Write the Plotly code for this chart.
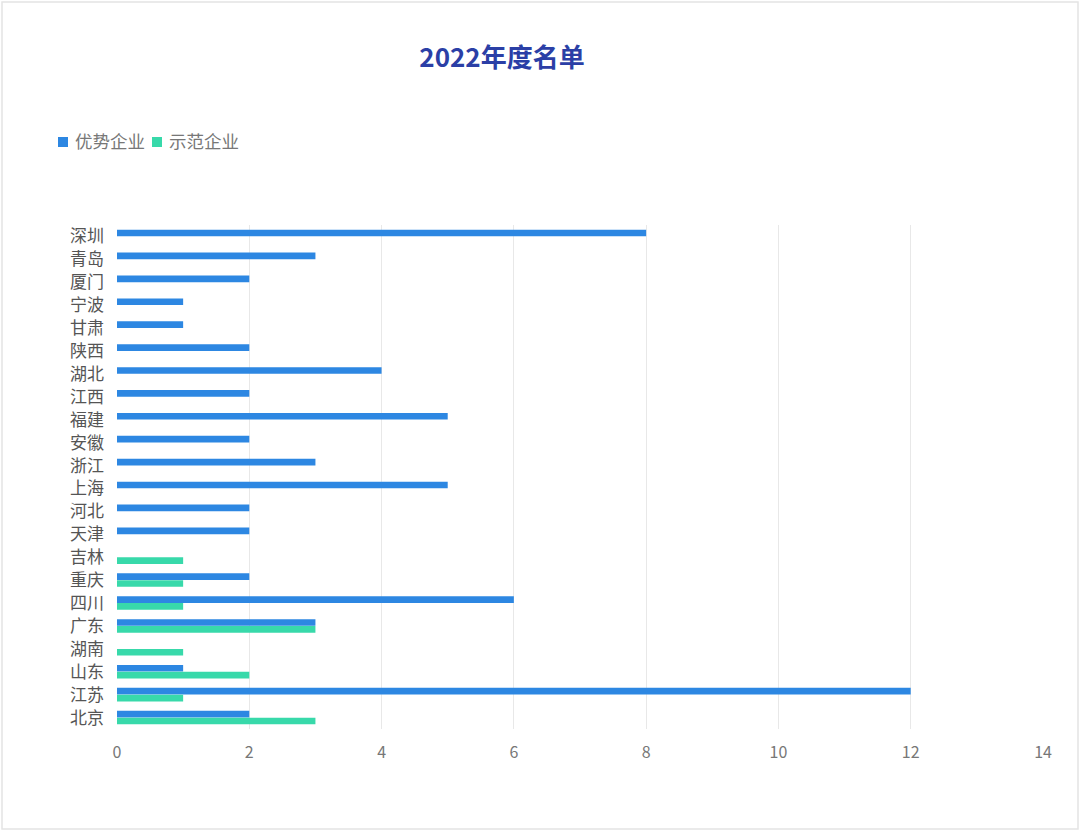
import plotly.graph_objects as go

# categories top to bottom
regions = ["深圳", "青岛", "厦门", "宁波", "甘肃", "陕西", "湖北", "江西", "福建", "安徽", "浙江",
           "上海", "河北", "天津", "吉林", "重庆", "四川", "广东", "湖南", "山东", "江苏", "北京"]
youshi = [8, 3, 2, 1, 1, 2, 4, 2, 5, 2, 3, 5, 2, 2, 0, 2, 6, 3, 0, 1, 12, 2]
shifan = [0, 0, 0, 0, 0, 0, 0, 0, 0, 0, 0, 0, 0, 0, 1, 1, 1, 3, 1, 2, 1, 3]
x_ticks = [0, 2, 4, 6, 8, 10, 12, 14]
series_names = ["优势企业", "示范企业"]
series_colors = ["#2d87e2", "#38d9aa"]

W, H = 1080, 831
L, R, T, B = 117, 37, 225, 102
pw, ph = W - L - R, H - T - B
font = "Noto Sans CJK SC"


def px(x):
    return (x - L) / pw


def py(y):
    return (H - B - y) / ph


fig = go.Figure()
for name, vals, col in zip(series_names, [youshi, shifan], series_colors):
    fig.add_trace(go.Bar(y=regions, x=vals, name=name, orientation="h",
                         marker=dict(color=col, line=dict(width=0))))

# legend drawn by hand: small squares + labels
legend_x = [58, 152]
shapes = [dict(type="rect", xref="paper", yref="paper", x0=px(2), x1=px(1078),
               y0=py(829), y1=py(2), line=dict(color="#e4e4e4", width=1.5))]
annotations = []
for lx, name, col in zip(legend_x, series_names, series_colors):
    shapes.append(dict(type="rect", xref="paper", yref="paper", x0=px(lx), x1=px(lx + 10),
                       y0=py(147), y1=py(137), fillcolor=col, line=dict(width=0)))
    annotations.append(dict(text=name, xref="paper", yref="paper", x=px(lx + 15), y=py(141),
                            xanchor="left", yanchor="middle", showarrow=False,
                            font=dict(size=17.5, color="#777777", family=font)))

fig.update_layout(
    width=W, height=H,
    paper_bgcolor="white", plot_bgcolor="white",
    margin=dict(l=L, r=R, t=T, b=B),
    font=dict(family=font, color="#666666", size=15),
    title=dict(text="<b>2022年度名单</b>", x=502 / W, xanchor="center",
               y=1 - 58 / H, yanchor="middle",
               font=dict(size=26, color="#2b3fa6", family=font)),
    barmode="group", bargap=0.4, bargroupgap=0.03,
    showlegend=False,
    xaxis=dict(range=[0, 14], tickvals=x_ticks, showgrid=True, gridcolor="#e8e8e8",
               gridwidth=1, zeroline=False, showline=False, ticks="",
               tickfont=dict(size=16, color="#777777"), ticklabelstandoff=12, fixedrange=True),
    yaxis=dict(autorange="reversed", showgrid=False, showline=False, ticks="",
               tickfont=dict(size=17, color="#555555"), ticklabelstandoff=12, fixedrange=True),
    shapes=shapes,
    annotations=annotations,
)

fig.write_html("out.html", config={"displayModeBar": False},
               post_script="document.body.style.margin='0';")
